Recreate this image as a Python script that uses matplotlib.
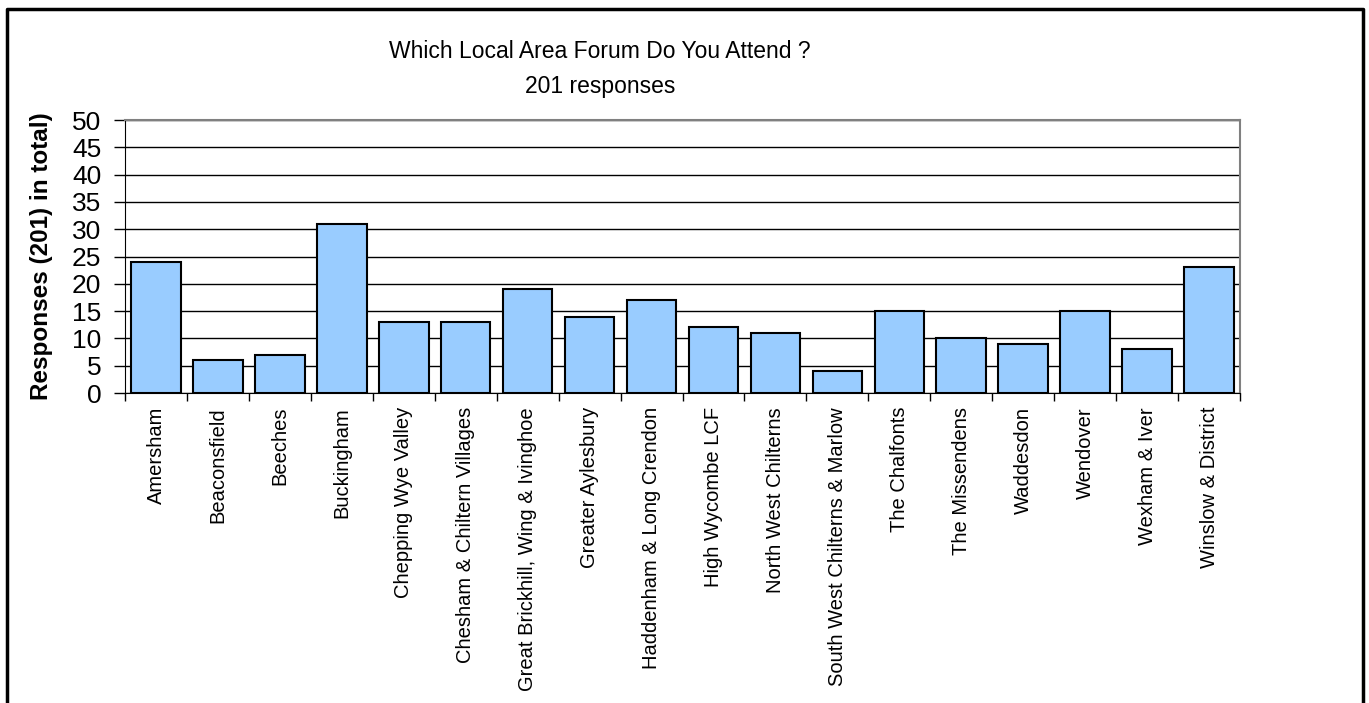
import matplotlib.pyplot as plt
import numpy as np
from matplotlib.lines import Line2D

forums = ["Amersham", "Beaconsfield", "Beeches", "Buckingham", "Chepping Wye Valley",
          "Chesham & Chiltern Villages", "Great Brickhill, Wing & Ivinghoe", "Greater Aylesbury",
          "Haddenham & Long Crendon", "High Wycombe LCF", "North West Chilterns",
          "South West Chilterns & Marlow", "The Chalfonts", "The Missendens", "Waddesdon",
          "Wendover", "Wexham & Iver", "Winslow & District"]
responses = [24, 6, 7, 31, 13, 13, 19, 14, 17, 12, 11, 4, 15, 10, 9, 15, 8, 23]
yticks = list(range(0, 51, 5))

plt.rcParams['font.family'] = ['Liberation Sans', 'DejaVu Sans']

fig = plt.figure(figsize=(13.69, 7.03), dpi=100)
ax = fig.add_axes([125 / 1369, 1 - 393 / 703, (1240 - 125) / 1369, (393 - 120) / 703])

x = np.arange(len(forums))
ax.bar(x, responses, width=0.8, color="#99CCFF", edgecolor="black", linewidth=1.5, zorder=3)

ax.set_xlim(-0.5, len(forums) - 0.5)
ax.set_ylim(0, 50)
ax.set_yticks(yticks)
ax.set_yticklabels([str(v) for v in yticks], fontsize=19)
ax.yaxis.grid(True, color="black", linewidth=1)
ax.set_axisbelow(True)
ax.tick_params(axis='y', direction='out', length=8, width=1, pad=9)

# category labels centered, tick marks between categories
ax.set_xticks(x)
ax.set_xticklabels(forums, rotation=90, fontsize=14.5)
ax.tick_params(axis='x', which='major', length=0, pad=10)
ax.set_xticks(np.arange(-0.5, len(forums)), minor=True)
ax.tick_params(axis='x', which='minor', direction='out', length=6, width=1)

ax.spines['left'].set_color("black")
ax.spines['bottom'].set_color("black")
ax.spines['top'].set_color("#808080")
ax.spines['right'].set_color("#808080")
ax.spines['top'].set_linewidth(1.5)
ax.spines['right'].set_linewidth(1.5)

ax.set_ylabel("Responses (201) in total)", fontsize=17.5, fontweight='bold')
ax.yaxis.set_label_coords((53 - 125) / 1115, 0.5)

# title sits left of the axes centre, as in the original
fig.text(600 / 1369, 1 - 58 / 703, "Which Local Area Forum Do You Attend ?",
         ha='center', va='baseline', fontsize=16.5)
fig.text(600 / 1369, 1 - 93 / 703, "201 responses",
         ha='center', va='baseline', fontsize=16.5)

# outer frame, open at the bottom
fx = [7 / 1369, 7 / 1369, 1363 / 1369, 1363 / 1369]
fy = [0, 1 - 9 / 703, 1 - 9 / 703, 0]
fig.add_artist(Line2D(fx, fy, color="black", linewidth=2.5, transform=fig.transFigure))

fig.savefig("out.png", dpi=100)
